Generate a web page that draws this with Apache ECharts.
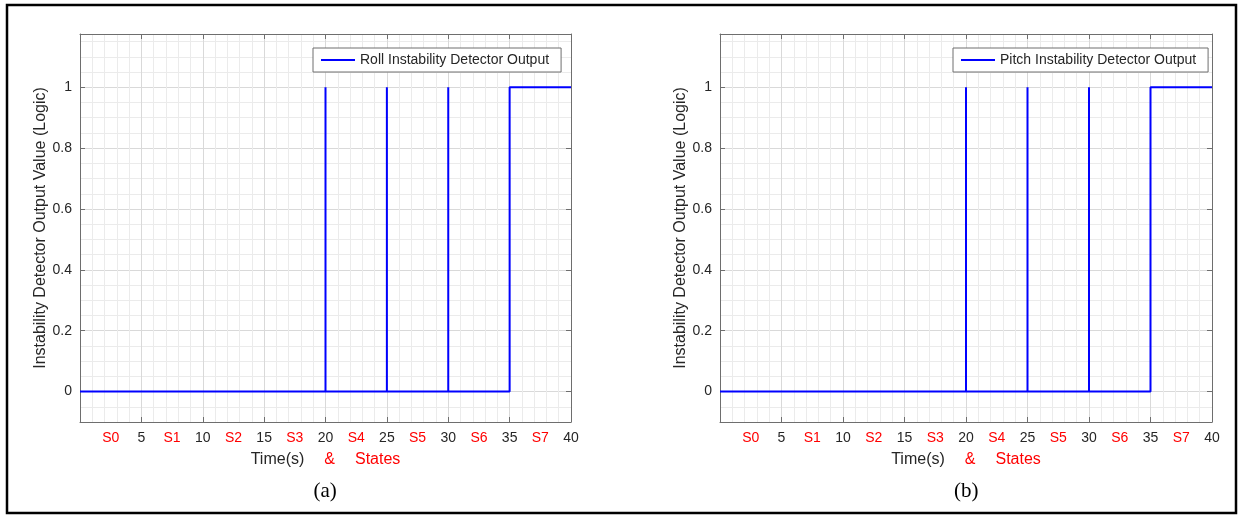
<!DOCTYPE html>
<html>
<head>
<meta charset="utf-8">
<script src="https://cdn.jsdelivr.net/npm/echarts@6/dist/echarts.min.js"></script>
<style>
html,body{margin:0;padding:0;background:#fff;}
#chart{width:1241px;height:517px;}
</style>
</head>
<body>
<div id="chart"></div>
<script>
// detector output (logic) against time in seconds
var timeValues  = [0, 20, 20, 20, 25, 25, 25, 30, 30, 30, 35, 35, 40];
var rollValues  = [0, 0, 1, 0, 0, 1, 0, 0, 1, 0, 0, 1, 1];
var pitchValues = [0, 0, 1, 0, 0, 1, 0, 0, 1, 0, 0, 1, 1];

var timeTicks  = [5, 10, 15, 20, 25, 30, 35, 40];
var stateNames = ['S0', 'S1', 'S2', 'S3', 'S4', 'S5', 'S6', 'S7'];
var statePos   = [2.5, 7.5, 12.5, 17.5, 22.5, 27.5, 32.5, 37.5];
var yTicks     = [0, 0.2, 0.4, 0.6, 0.8, 1];

var seriesNames = ['Roll Instability Detector Output', 'Pitch Instability Detector Output'];
var captions = ['(a)', '(b)'];

var FONT = '"Liberation Sans", Arial, sans-serif';
var AXIS_COL = '#6e6e6e';
var TXT_COL = '#262626';
var MAJOR = '#d9d9d9';
var MINOR = '#ebebeb';

var grids = [
    {left: 80, top: 34, width: 491, height: 388},
    {left: 720, top: 34, width: 492, height: 388}
];

function pairs(ys){
    return timeValues.map(function(t, i){ return [t, ys[i]]; });
}

var xLabelVals = statePos.concat(timeTicks).sort(function(a, b){ return a - b; });

var xAxes = [], yAxes = [], series = [], legends = [], graphics = [];
var allValues = [rollValues, pitchValues];

var hidden = {
    axisLine: {show: false, onZero: false},
    axisTick: {show: false},
    axisLabel: {show: false}
};

grids.forEach(function(g, gi){
    // x: grid axis (series bound here), labelled bottom axis, top tick axis
    xAxes.push(Object.assign({
        type: 'value', gridIndex: gi, position: 'bottom',
        min: 0, max: 40, interval: 1,
        splitLine: {show: true, lineStyle: {color: [MAJOR, MINOR, MINOR, MINOR, MINOR], width: 1}}
    }, hidden));
    xAxes.push({
        type: 'value', gridIndex: gi, position: 'bottom',
        min: 0, max: 40, interval: 5,
        axisLine: {show: true, onZero: false, lineStyle: {color: AXIS_COL, width: 1}},
        axisTick: {show: true, inside: true, length: 5, customValues: timeTicks, lineStyle: {color: AXIS_COL}},
        axisLabel: {
            customValues: xLabelVals, margin: 9,
            formatter: function(v){
                var i = statePos.indexOf(v);
                if (i >= 0) return '{s|' + stateNames[i] + '}';
                return '{n|' + v + '}';
            },
            rich: {
                s: {color: '#ff0000', fontSize: 14, fontFamily: FONT},
                n: {color: TXT_COL, fontSize: 14, fontFamily: FONT}
            }
        },
        splitLine: {show: false},
        name: '{t|Time(s)}{sp|    }{r|&}{sp|    }{r|States}',
        nameLocation: 'middle', nameGap: 29,
        nameTextStyle: {
            rich: {
                t: {color: TXT_COL, fontSize: 16, fontFamily: FONT},
                sp: {fontSize: 18, fontFamily: FONT},
                r: {color: '#ff0000', fontSize: 16, fontFamily: FONT}
            }
        }
    });
    xAxes.push({
        type: 'value', gridIndex: gi, position: 'top',
        min: 0, max: 40, interval: 5,
        axisLine: {show: true, onZero: false, lineStyle: {color: AXIS_COL, width: 1}},
        axisTick: {show: true, inside: true, length: 5, customValues: timeTicks, lineStyle: {color: AXIS_COL}},
        axisLabel: {show: false},
        splitLine: {show: false}
    });

    // y: grid axis (series bound here), labelled left axis, right tick axis
    yAxes.push(Object.assign({
        type: 'value', gridIndex: gi, position: 'left',
        min: -0.1, max: 1.175, interval: 0.05,
        splitLine: {show: true, lineStyle: {color: [MINOR, MINOR, MAJOR, MINOR], width: 1}}
    }, hidden));
    yAxes.push({
        type: 'value', gridIndex: gi, position: 'left',
        min: -0.1, max: 1.175, interval: 0.05,
        axisLine: {show: true, onZero: false, lineStyle: {color: AXIS_COL, width: 1}},
        axisTick: {show: true, inside: true, length: 5, customValues: yTicks, lineStyle: {color: AXIS_COL}},
        axisLabel: {
            customValues: yTicks, margin: 8, color: TXT_COL, fontSize: 14, fontFamily: FONT,
            formatter: function(v){ return String(v); }
        },
        splitLine: {show: false},
        name: 'Instability Detector Output Value (Logic)',
        nameLocation: 'middle', nameGap: 30,
        nameTextStyle: {color: TXT_COL, fontSize: 16, fontFamily: FONT}
    });
    yAxes.push({
        type: 'value', gridIndex: gi, position: 'right',
        min: -0.1, max: 1.175, interval: 0.05,
        axisLine: {show: true, onZero: false, lineStyle: {color: AXIS_COL, width: 1}},
        axisTick: {show: true, inside: true, length: 5, customValues: yTicks, lineStyle: {color: AXIS_COL}},
        axisLabel: {show: false},
        splitLine: {show: false}
    });

    series.push({
        name: seriesNames[gi],
        type: 'line',
        xAxisIndex: gi * 3, yAxisIndex: gi * 3,
        data: pairs(allValues[gi]),
        symbol: 'none',
        lineStyle: {color: '#0000ff', width: 2},
        itemStyle: {color: '#0000ff'}
    });
    legends.push({
        data: [{name: seriesNames[gi], icon: 'rect'}],
        left: g.left + 233, top: 48,
        orient: 'horizontal',
        backgroundColor: '#fff',
        borderColor: '#6e6e6e', borderWidth: 1, borderRadius: 0,
        padding: [5, 12, 5, 8],
        itemWidth: 34, itemHeight: 2,
        textStyle: {color: TXT_COL, fontSize: 14, fontFamily: FONT}
    });
    graphics.push({
        type: 'text',
        left: g.left + g.width / 2 - 12, top: 481,
        style: {text: captions[gi], fill: '#000', fontSize: 21, fontFamily: '"Liberation Serif", "Times New Roman", serif'}
    });
});

graphics.push({
    type: 'rect',
    shape: {x: 7, y: 5, width: 1229, height: 508},
    style: {fill: 'none', stroke: '#000', lineWidth: 2.5}
});

var chart = echarts.init(document.getElementById('chart'));
chart.setOption({
    animation: false,
    backgroundColor: '#fff',
    grid: grids,
    xAxis: xAxes,
    yAxis: yAxes,
    legend: legends,
    series: series,
    graphic: graphics
});
</script>
</body>
</html>
